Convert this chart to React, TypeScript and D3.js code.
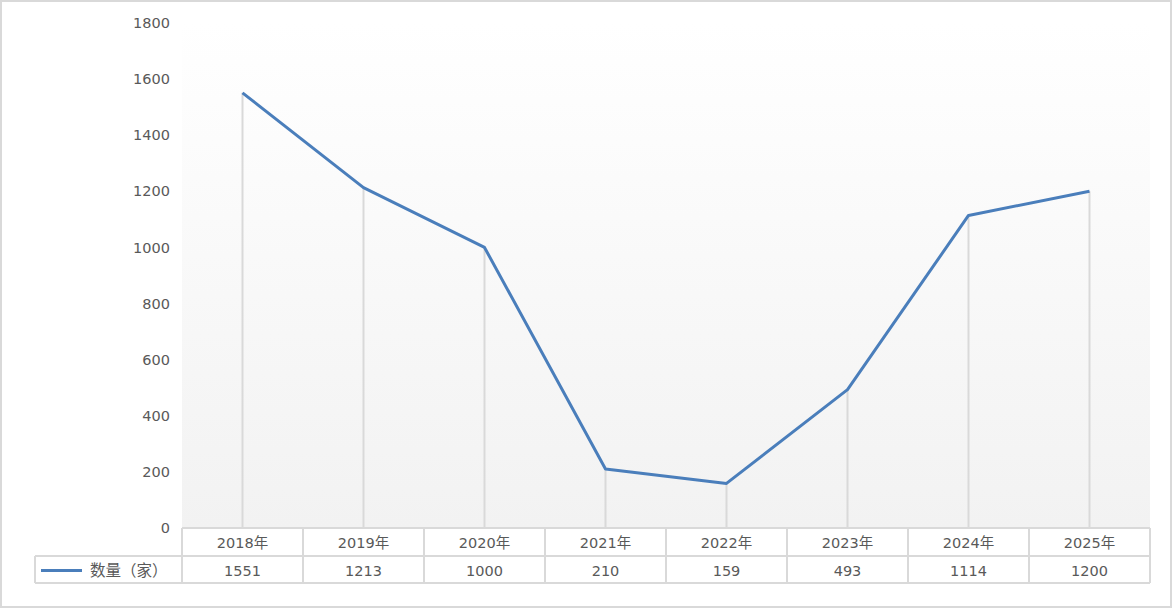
import React from "react";
import * as d3 from "d3";

const categories = ["2018年", "2019年", "2020年", "2021年", "2022年", "2023年", "2024年", "2025年"];
const values = [1551, 1213, 1000, 210, 159, 493, 1114, 1200];
const yTicks = [0, 200, 400, 600, 800, 1000, 1200, 1400, 1600, 1800];
const seriesName = "数量（家）";

const W = 1173;
const H = 609;
const left = 182;
const right = 1150;
const top = 23;
const bottom = 528;
const row1 = 556;
const row2 = 583;
const legendLeft = 35;
const grid = "#d9d9d9";
const txt = "#595959";
const lineColor = "#4a7ebb";
const font = "'DejaVu Sans', 'Noto Sans CJK SC', sans-serif";
const fs = 14.5;

export default function App() {
  const x = d3.scaleBand<string>().domain(categories).range([left, right]);
  const y = d3.scaleLinear().domain([0, 1800]).range([bottom, top]);
  const cx = (c: string) => (x(c) as number) + x.bandwidth() / 2;
  const line = d3
    .line<number>()
    .x((_, i) => cx(categories[i]))
    .y((v) => y(v));

  return (
    <svg width={W} height={H} style={{ position: "absolute", left: 0, top: 0 }} fontFamily={font}>
      <defs>
        <linearGradient id="bg" x1="0" y1="0" x2="0" y2="1">
          <stop offset="0" stopColor="#ffffff" />
          <stop offset="1" stopColor="#f2f2f2" />
        </linearGradient>
      </defs>
      <rect x={0} y={0} width={W} height={H} fill="#fff" />
      <rect x={1} y={1} width={W - 3} height={H - 3} fill="#fff" stroke={grid} strokeWidth={2} />
      <rect x={left} y={top} width={right - left} height={bottom - top} fill="url(#bg)" />
      {yTicks.map((t) => (
        <text key={t} x={170} y={y(t)} dy="0.35em" textAnchor="end" fontSize={fs} fill={txt}>
          {t}
        </text>
      ))}
      {categories.map((c, i) => (
        <line key={"d" + c} x1={cx(c)} x2={cx(c)} y1={y(values[i])} y2={bottom} stroke={grid} strokeWidth={2} />
      ))}
      <path d={line(values) || ""} fill="none" stroke={lineColor} strokeWidth={3} strokeLinejoin="round" />
      <g stroke={grid} strokeWidth={2} fill="none">
        <line x1={left} x2={right} y1={bottom} y2={bottom} />
        <line x1={legendLeft} x2={right} y1={row1} y2={row1} />
        <line x1={legendLeft} x2={right} y1={row2} y2={row2} />
        <line x1={legendLeft} x2={legendLeft} y1={row1} y2={row2} />
        <line x1={left} x2={left} y1={bottom} y2={row2} />
        {categories.map((c) => (
          <line key={"v" + c} x1={(x(c) as number) + x.bandwidth()} x2={(x(c) as number) + x.bandwidth()} y1={bottom} y2={row2} />
        ))}
      </g>
      {categories.map((c, i) => (
        <g key={"t" + c}>
          <text x={cx(c)} y={(bottom + row1) / 2 + 1} dy="0.35em" textAnchor="middle" fontSize={fs} fill={txt}>
            {c}
          </text>
          <text x={cx(c)} y={(row1 + row2) / 2 + 1} dy="0.35em" textAnchor="middle" fontSize={fs} fill={txt}>
            {values[i]}
          </text>
        </g>
      ))}
      <line x1={41} x2={82} y1={(row1 + row2) / 2 + 1} y2={(row1 + row2) / 2 + 1} stroke={lineColor} strokeWidth={3} />
      <text x={90} y={(row1 + row2) / 2 + 1} dy="0.35em" fontSize={fs + 1} fill={txt}>
        {seriesName}
      </text>
    </svg>
  );
}
